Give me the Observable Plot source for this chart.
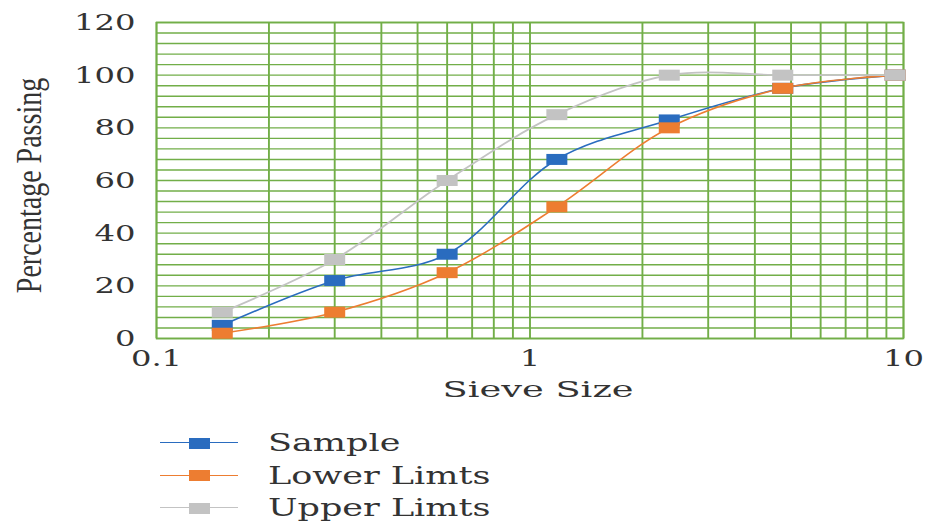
<!DOCTYPE html>
<html>
<head>
<meta charset="utf-8">
<script src="https://cdn.jsdelivr.net/npm/d3@7"></script>
<script src="https://cdn.jsdelivr.net/npm/@observablehq/plot@0.6"></script>
<style>
  html, body { margin: 0; padding: 0; background: #fff; }
  #chart { position: relative; width: 926px; height: 526px; overflow: hidden; background: #fff; }
  #legend { position: absolute; left: 0; top: 0; width: 926px; height: 526px; pointer-events: none; }
  .lg-line { position: absolute; height: 0; }
  .lg-box { position: absolute; width: 21px; height: 11px; }
  .lg-text { position: absolute; font-family: "DejaVu Serif", serif; font-size: 25px; color: #333;
             line-height: 33px; height: 33px; white-space: nowrap; transform: scaleX(1.4); transform-origin: left center; }
</style>
</head>
<body>
<div id="chart"></div>
<script>
// ---- data ----
const sieveSizes   = [0.15, 0.3, 0.6, 1.18, 2.36, 4.75, 9.5];
const sample       = [5, 22, 32, 68, 83, 95, 100];
const lowerLimits  = [2, 10, 25, 50, 80, 95, 100];
const upperLimits  = [10, 30, 60, 85, 100, 100, 100];
const seriesNames  = ["Sample", "Lower Limts", "Upper Limts"];
const seriesColors = ["#2a6cbf", "#ed7d31", "#c3c3c3"];
const xTickLabels  = [0.1, 1, 10];
const yTickLabels  = [0, 20, 40, 60, 80, 100, 120];
const xGridValues  = [0.1, 0.2, 0.3, 0.4, 0.5, 0.6, 0.7, 0.8, 0.9, 1, 2, 3, 4, 5, 6, 7, 8, 9, 10];
const yGridValues  = [0, 4, 8, 12, 16, 20, 24, 28, 32, 36, 40, 44, 48, 52, 56, 60, 64, 68, 72, 76,
                      80, 84, 88, 92, 96, 100, 104, 108, 112, 116, 120];
const xTitle = "Sieve Size";
const yTitle = "Percentage Passing";

const seriesValues = [sample, lowerLimits, upperLimits];
const rows = [];
seriesValues.forEach((vals, s) => vals.forEach((v, i) => rows.push({series: seriesNames[s], size: sieveSizes[i], pct: v})));

const gridGreen = "#72ae48";
const boxSymbol = { draw(ctx) { ctx.rect(-10.5, -5.5, 21, 11); } };

const seriesMarks = seriesNames.flatMap((name, s) => [
  Plot.line(rows, {filter: d => d.series === name, x: "size", y: "pct", stroke: seriesColors[s],
                   strokeWidth: s === 2 ? 1.8 : 1.6, curve: "catmull-rom"}),
  Plot.dot(rows, {filter: d => d.series === name, x: "size", y: "pct", symbol: boxSymbol,
                  fill: seriesColors[s], stroke: "none"})
]);

const plot = Plot.plot({
  width: 926,
  height: 420,
  marginTop: 22,
  marginLeft: 156,
  marginRight: 23,
  marginBottom: 82,
  style: {fontFamily: "DejaVu Serif, serif", color: "#333", background: "#fff"},
  x: {type: "log", domain: [0.1, 10], axis: null},
  y: {domain: [0, 120], axis: null},
  marks: [
    Plot.ruleY(yGridValues, {stroke: gridGreen, strokeWidth: 1.4}),
    Plot.ruleX(xGridValues, {stroke: gridGreen, strokeWidth: 1.9}),
    Plot.frame({stroke: gridGreen, strokeWidth: 1.6}),
    ...seriesMarks,
    Plot.text(xTickLabels, {x: d => d, frameAnchor: "bottom", dy: 27, text: d => String(d),
                            fontSize: 23, fill: "#333"}),
    Plot.text(yTickLabels, {y: d => d, frameAnchor: "left", dx: -21, textAnchor: "end",
                            text: d => String(d), fontSize: 23, fill: "#333"}),
    Plot.text([xTitle], {frameAnchor: "bottom", dx: 8, dy: 58, text: d => d,
                         fontSize: 23, fill: "#333"}),
    Plot.text([yTitle], {frameAnchor: "left", dx: -127, dy: 5, rotate: -90, textAnchor: "middle", text: d => d,
                         fontSize: 28, fontFamily: "Liberation Serif", fill: "#333"})
  ]
});

const chart = document.getElementById("chart");
chart.appendChild(plot);

// widen the glyphs like in the (horizontally stretched) reference
const stretchFor = txt => txt === xTitle ? 1.6 : txt === yTitle ? 1.3 : 1.4;
Array.from(plot.querySelectorAll("text")).forEach(t => {
  const txt = t.textContent;
  const sx = stretchFor(txt);
  const anchor = getComputedStyle(t).textAnchor;
  const g = document.createElementNS("http://www.w3.org/2000/svg", "g");
  t.parentNode.insertBefore(g, t);
  g.appendChild(t);
  const bb = g.getBBox();
  const rotated = txt === yTitle;
  const ox = rotated ? bb.x + bb.width / 2
           : anchor === "end" ? bb.x + bb.width
           : anchor === "start" ? bb.x
           : bb.x + bb.width / 2;
  g.setAttribute("transform", `translate(${ox},0) scale(${sx},1) translate(${-ox},0)`);
});

// legend below the plot
const legend = d3.select(chart).append("div").attr("id", "legend");
seriesNames.forEach((name, i) => {
  const cy = 443 + 32.5 * i;
  legend.append("div").attr("class", "lg-line")
    .style("left", "160px").style("width", "78px").style("top", (cy - 0.8) + "px")
    .style("border-top", `1.6px solid ${seriesColors[i]}`);
  legend.append("div").attr("class", "lg-box")
    .style("left", "189px").style("top", (cy - 5.5) + "px").style("background", seriesColors[i]);
  legend.append("div").attr("class", "lg-text")
    .style("left", "268px").style("top", (cy - 17) + "px").text(name);
});
</script>
</body>
</html>
